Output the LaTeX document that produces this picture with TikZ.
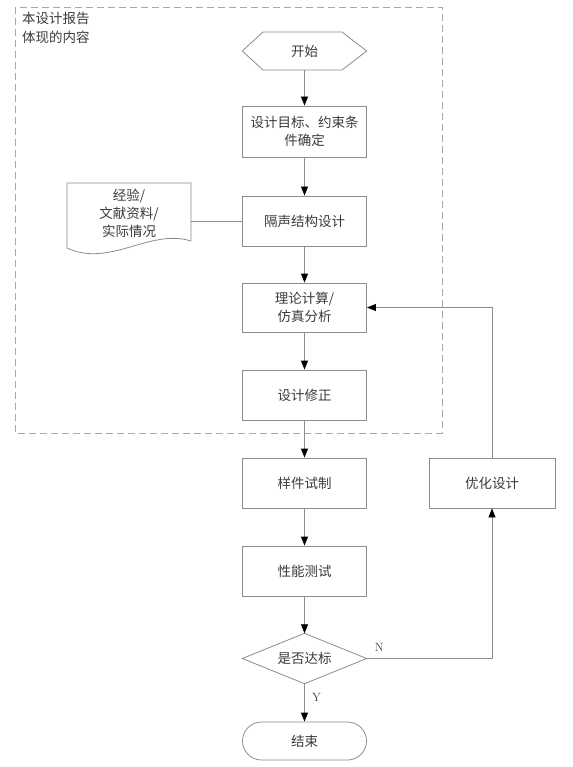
\documentclass[tikz,border=0pt]{standalone}
\usepackage{fontspec}
\newfontfamily\cjk{Noto Sans CJK SC}
\usetikzlibrary{arrows.meta}
\definecolor{ln}{HTML}{8C8C8C}
\definecolor{tx}{HTML}{3A3A3A}
\definecolor{dsh}{HTML}{A8A8A8}
\tikzset{
  boxnode/.style={draw=ln, line width=0.8pt, minimum width=124pt, minimum height=50pt, inner sep=0pt, align=center, font=\cjk\fontsize{13.5}{18}\selectfont, text=tx},
  ghost/.style={minimum width=124pt, minimum height=#1, inner sep=0pt, align=center, font=\cjk\fontsize{13.5}{18}\selectfont, text=tx},
  conn/.style={draw=ln, line width=0.8pt},
  arr/.style={conn, -{Triangle[length=9pt,width=7pt,fill=black,color=black]}},
  lbl/.style={font=\fontsize{12}{14}\selectfont, text=tx}
}
\begin{document}
\begin{tikzpicture}[x=1pt,y=-1pt]
\useasboundingbox (0,0) rectangle (572,767);
% dashed frame
\draw[dsh, line width=0.8pt, dash pattern=on 7pt off 4pt] (15,7) rectangle (442,433);
\node[anchor=north west, align=left, inner sep=0pt, font=\cjk\fontsize{13.5}{19}\selectfont, text=tx] (frame) at (22,12) {本设计报告\\体现的内容};
% start hexagon
\node[ghost=38pt] (start) at (304.5,51) {开始};
\draw[ln, line width=0.8pt] (start.west) -- (263,32) -- (342,32) -- (start.east) -- (342,70) -- (263,70) -- cycle;
% boxes
\node[boxnode, minimum height=51pt] (goal) at (304.5,131.5) {设计目标、约束条\\件确定};
\node[boxnode] (struct) at (304.5,221) {隔声结构设计};
\node[boxnode, minimum height=49pt] (calc) at (304.5,307.5) {理论计算/\\仿真分析};
\node[boxnode] (fix) at (304.5,395) {设计修正};
\node[boxnode] (proto) at (304.5,483) {样件试制};
\node[boxnode] (test) at (304.5,571) {性能测试};
\node[boxnode, minimum width=126pt] (opt) at (492,483) {优化设计};
% decision
\node[ghost=50pt] (dec) at (304.5,658.5) {是否达标};
\draw[ln, line width=0.8pt] (dec.west) -- (dec.north) -- (dec.east) -- (dec.south) -- cycle;
% end
\node[boxnode, minimum height=38pt, rounded corners=19pt] (end) at (304.5,741) {结束};
% document
\node[minimum width=124pt, minimum height=65pt, inner sep=0pt, align=center, font=\cjk\fontsize{13.5}{18}\selectfont, text=tx] (doc) at (129,213) {经验/\\文献资料/\\实际情况};
\draw[ln, line width=0.8pt] (67,248) -- (67,183) -- (191,183) -- (191,241) .. controls (150,228) and (110,268) .. (67,248);
% connectors
\draw[conn] (doc.east |- struct.west) -- (struct.west);
\draw[arr] (start.south) -- (goal.north);
\draw[arr] (goal.south) -- (struct.north);
\draw[arr] (struct.south) -- (calc.north);
\draw[arr] (calc.south) -- (fix.north);
\draw[arr] (fix.south) -- (proto.north);
\draw[arr] (proto.south) -- (test.north);
\draw[arr] (test.south) -- (dec.north);
\draw[arr] (dec.south) -- node[lbl, right, pos=0.35, xshift=4pt] {Y} (end.north);
\draw[arr] (dec.east) -- node[lbl, above, pos=0.1, yshift=3pt] {N} (opt.south |- dec.east) -- (opt.south);
\draw[arr] (opt.north) -- (opt.north |- calc.east) -- (calc.east);
\end{tikzpicture}
\end{document}
